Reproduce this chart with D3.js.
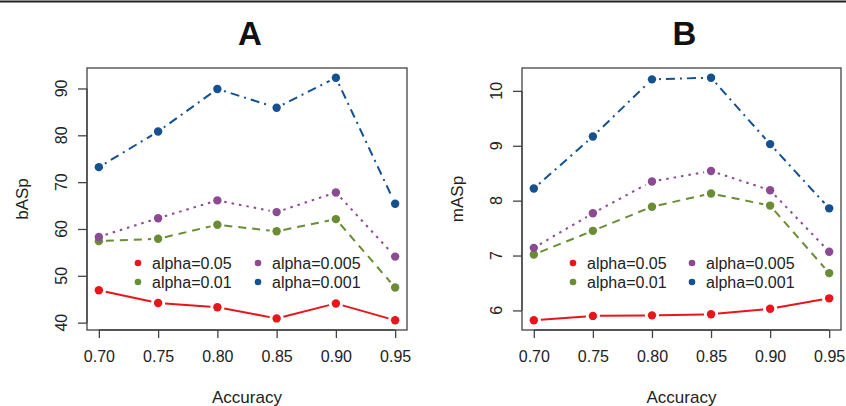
<!DOCTYPE html>
<html>
<head>
<meta charset="utf-8">
<script src="https://cdn.jsdelivr.net/npm/d3@7"></script>
<style>
  body { margin: 0; background: #fff; }
  svg { display: block; font-family: "Liberation Sans", Arial, sans-serif; }
</style>
</head>
<body>
<svg id="chart" width="846" height="406"></svg>
<script>
// data
const accuracy = [0.70, 0.75, 0.80, 0.85, 0.90, 0.95];
const xTickLabels = ['0.70', '0.75', '0.80', '0.85', '0.90', '0.95'];
const alphaLabels = ['alpha=0.05', 'alpha=0.01', 'alpha=0.005', 'alpha=0.001'];

// panel A: bASp
const bA05 = [46.9, 44.2, 43.3, 40.9, 44.1, 40.5];
const bA01 = [57.4, 57.9, 60.9, 59.5, 62.1, 47.5];
const bA005 = [58.3, 62.3, 66.1, 63.6, 67.8, 54.1];
const bA001 = [73.2, 80.8, 89.9, 85.9, 92.3, 65.4];
const yTicksA = [40, 50, 60, 70, 80, 90];

// panel B: mASp
const mA05 = [5.82, 5.90, 5.91, 5.93, 6.03, 6.22];
const mA01 = [7.02, 7.45, 7.89, 8.13, 7.91, 6.68];
const mA005 = [7.14, 7.77, 8.35, 8.54, 8.19, 7.07];
const mA001 = [8.22, 9.17, 10.21, 10.24, 9.03, 7.86];
const yTicksB = [6, 7, 8, 9, 10];

// styles for the four alpha levels
const colors = ['#e8161b', '#6a8c34', '#8c4a93', '#15508f'];
const dashes = [null, '8,6', '2.5,5', '2,5,9,5'];

const svg = d3.select('#chart');

// thin rule at the very top
svg.append('line')
  .attr('x1', 0).attr('x2', 846)
  .attr('y1', 1.5).attr('y2', 1.5)
  .attr('stroke', '#222').attr('stroke-width', 2);

function padded(ext) {
  const p = (ext[1] - ext[0]) * 0.04;
  return [ext[0] - p, ext[1] + p];
}

function drawPanel(opts) {
  const { left, right, top, bottom, title, yLabel, series, yTicks, legendX } = opts;
  const g = svg.append('g');

  const x = d3.scaleLinear().domain(padded(d3.extent(accuracy))).range([left, right]);
  const allY = series.flat();
  const y = d3.scaleLinear().domain(padded(d3.extent(allY))).range([bottom, top]);

  // box
  g.append('rect')
    .attr('x', left).attr('y', top)
    .attr('width', right - left).attr('height', bottom - top)
    .attr('fill', 'none').attr('stroke', '#444').attr('stroke-width', 1.3);

  // x axis
  const xAxis = d3.axisBottom(x)
    .tickValues(accuracy)
    .tickFormat((d, i) => xTickLabels[i])
    .tickSize(8).tickPadding(13);
  const gx = g.append('g').attr('transform', `translate(0,${bottom})`).call(xAxis);
  gx.select('.domain').attr('d', `M${x(accuracy[0])},0H${x(accuracy[accuracy.length - 1])}`)
    .attr('stroke', '#444').attr('stroke-width', 1.3);
  gx.selectAll('.tick line').attr('stroke', '#444').attr('stroke-width', 1.3);
  gx.selectAll('.tick text').attr('font-size', 16).attr('fill', '#222')
    .attr('font-family', '"Liberation Sans", Arial, sans-serif');

  // y axis, labels rotated like base R
  const yAxis = d3.axisLeft(y).tickValues(yTicks).tickSize(9).tickFormat('');
  const gy = g.append('g').attr('transform', `translate(${left},0)`).call(yAxis);
  gy.select('.domain').attr('d', `M0,${y(yTicks[0])}V${y(yTicks[yTicks.length - 1])}`)
    .attr('stroke', '#444').attr('stroke-width', 1.3);
  gy.selectAll('.tick line').attr('stroke', '#444').attr('stroke-width', 1.3);
  g.selectAll('.ylab')
    .data(yTicks)
    .enter()
    .append('text')
    .attr('transform', (d) => `translate(${left - 20},${y(d)}) rotate(-90)`)
    .attr('text-anchor', 'middle')
    .attr('font-size', 16)
    .attr('fill', '#222')
    .text((d) => d);

  // titles
  g.append('text')
    .attr('x', (left + right) / 2 + 3).attr('y', 45)
    .attr('text-anchor', 'middle')
    .attr('font-size', 33).attr('font-weight', 'bold')
    .attr('fill', '#111')
    .text(title);
  g.append('text')
    .attr('x', (left + right) / 2).attr('y', 403)
    .attr('text-anchor', 'middle')
    .attr('font-size', 17).attr('fill', '#222')
    .text('Accuracy');
  g.append('text')
    .attr('transform', `translate(${left - 59},${(top + bottom) / 2}) rotate(-90)`)
    .attr('text-anchor', 'middle')
    .attr('font-size', 17).attr('fill', '#222')
    .text(yLabel);

  // lines with gaps around points (type = "b")
  const gap = 7;
  series.forEach((vals, s) => {
    const segs = [];
    for (let i = 0; i < vals.length - 1; i++) {
      const x1 = x(accuracy[i]), y1 = y(vals[i]);
      const x2 = x(accuracy[i + 1]), y2 = y(vals[i + 1]);
      const len = Math.hypot(x2 - x1, y2 - y1);
      const ux = (x2 - x1) / len, uy = (y2 - y1) / len;
      segs.push([[x1 + ux * gap, y1 + uy * gap], [x2 - ux * gap, y2 - uy * gap]]);
    }
    g.selectAll(null)
      .data(segs)
      .enter()
      .append('path')
      .attr('d', d3.line())
      .attr('fill', 'none')
      .attr('stroke', colors[s])
      .attr('stroke-width', 2)
      .attr('stroke-dasharray', dashes[s]);

    g.selectAll(null)
      .data(vals)
      .enter()
      .append('circle')
      .attr('cx', (d, i) => x(accuracy[i]))
      .attr('cy', (d) => y(d))
      .attr('r', 4.2)
      .attr('fill', colors[s]);
  });

  // legend: two columns, no box
  const order = [0, 1, 2, 3];
  const leg = g.append('g');
  order.forEach((s) => {
    const col = s < 2 ? 0 : 1;
    const row = s % 2;
    const tx = legendX[col];
    const ty = 263 + row * 19;
    leg.append('circle')
      .attr('cx', tx - 14).attr('cy', ty)
      .attr('r', 3.3)
      .attr('fill', colors[s]);
    leg.append('text')
      .attr('x', tx).attr('y', ty + 6)
      .attr('font-size', 16).attr('fill', '#222')
      .text(alphaLabels[s]);
  });
}

drawPanel({
  left: 87, right: 407, top: 68, bottom: 330,
  title: 'A', yLabel: 'bASp',
  series: [bA05, bA01, bA005, bA001],
  yTicks: yTicksA,
  legendX: [152, 272]
});

drawPanel({
  left: 522, right: 841, top: 68, bottom: 330,
  title: 'B', yLabel: 'mASp',
  series: [mA05, mA01, mA005, mA001],
  yTicks: yTicksB,
  legendX: [587, 706]
});
</script>
</body>
</html>
